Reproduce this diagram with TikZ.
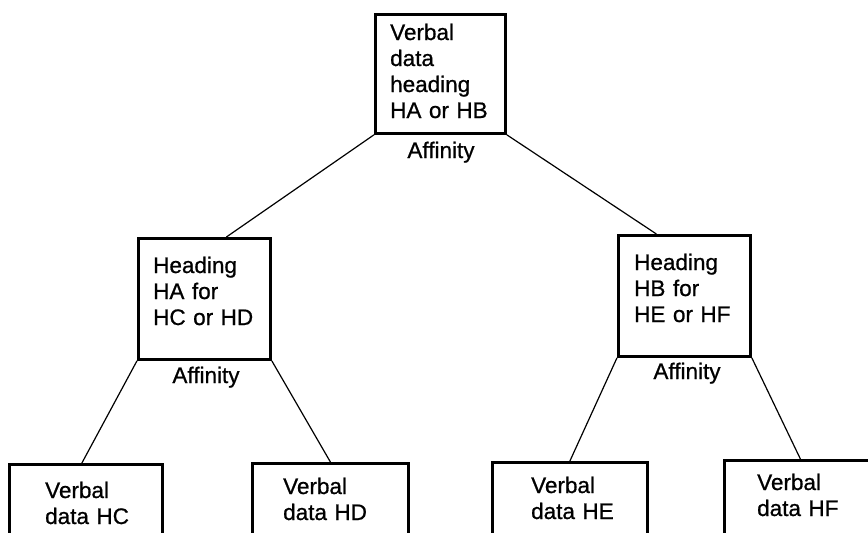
\documentclass[tikz,border=0pt]{standalone}
\usepackage{fontspec}
\setmainfont[BoldFont={Liberation Sans}, BoldFeatures={FakeBold=0.8}]{Liberation Sans}
\begin{document}
\begin{tikzpicture}[x=1pt,y=-1pt,
  box/.style={draw, line width=2.8pt, rectangle, inner sep=0pt, anchor=north west},
  boxtext/.style={anchor=base west, inner sep=0pt, align=left, text width=135pt,
    font=\fontsize{22.5}{26}\selectfont\bfseries},
  affinity/.style={anchor=base, inner sep=0pt, font=\fontsize{22.5}{26}\selectfont\bfseries},
  link/.style={line width=1.2pt}]
% page frame
\fill[white] (0,0) rectangle (868,533);
\useasboundingbox (0,0) rectangle (868,533);
\clip (0,0) rectangle (868,533);

% boxes
\node[box, minimum width=130pt, minimum height=119pt] (top) at (374,13) {};
\node[box, minimum width=132pt, minimum height=121pt] (ha) at (137,237) {};
\node[box, minimum width=132pt, minimum height=121pt] (hb) at (617,234) {};
\node[box, minimum width=153pt, minimum height=100pt] (hc) at (8,463) {};
\node[box, minimum width=156pt, minimum height=100pt] (hd) at (251,462) {};
\node[box, minimum width=155pt, minimum height=100pt] (he) at (491,461) {};
\node[box, minimum width=156pt, minimum height=100pt] (hf) at (723,459) {};

% box texts
\node[boxtext] (toptext) at (390,40) {Verbal\\data\\heading\\HA or HB};
\node[boxtext] (hatext) at (153,273) {Heading\\HA for\\HC or HD};
\node[boxtext] (hbtext) at (634,270) {Heading\\HB for\\HE or HF};
\node[boxtext] (hctext) at (45,498) {Verbal\\data HC};
\node[boxtext] (hdtext) at (283,494) {Verbal\\data HD};
\node[boxtext] (hetext) at (531,493) {Verbal\\data HE};
\node[boxtext] (hftext) at (757,490) {Verbal\\data HF};

% affinity labels
\node[affinity] (afftop) at (441,158) {Affinity};
\node[affinity] (affha) at (206,383) {Affinity};
\node[affinity] (affhb) at (687,379) {Affinity};

% connectors
\draw[link] (top.south west) -- ([xshift=22pt]ha.north);
\draw[link] (top.south east) -- ([xshift=-28pt]hb.north);
\draw[link] (ha.south west) -- ([xshift=-4pt]hc.north);
\draw[link] (ha.south east) -- (hd.north);
\draw[link] (hb.south west) -- (he.north);
\draw[link] (hb.south east) -- ([xshift=-2pt]hf.north);
\end{tikzpicture}
\end{document}
